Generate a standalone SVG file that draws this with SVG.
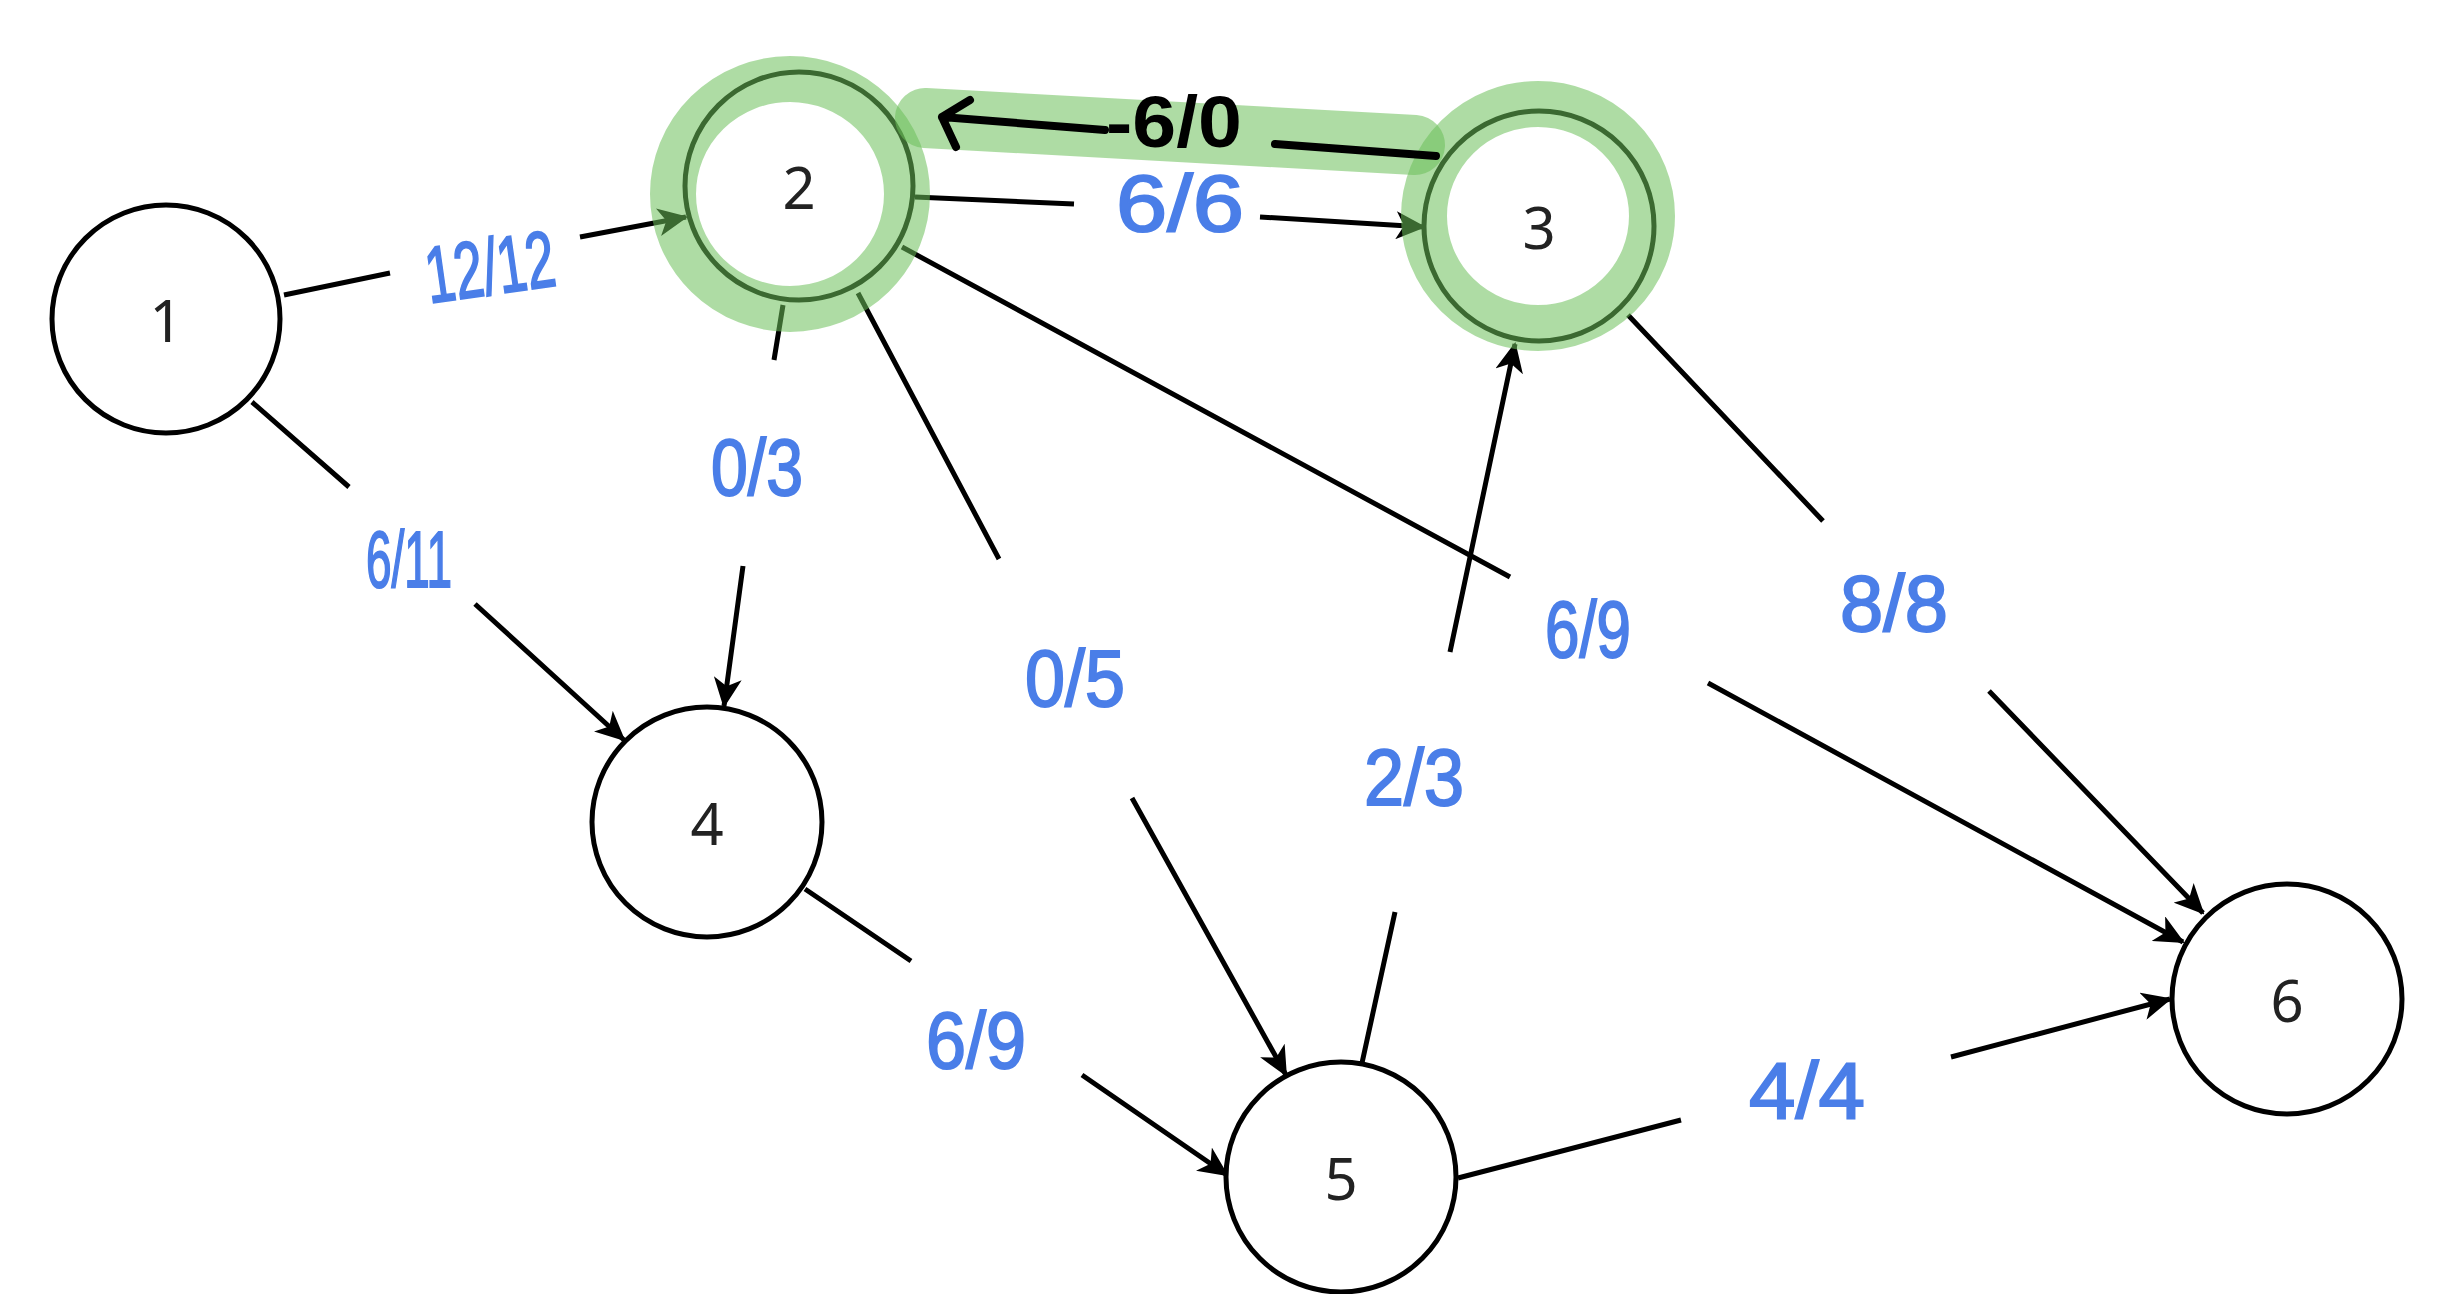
<svg xmlns="http://www.w3.org/2000/svg" width="2438" height="1294" viewBox="0 0 2438 1294">
<style>
.node circle{fill:#fff;stroke:#000;stroke-width:5}
.node text{font-family:"Noto Sans","Open Sans",sans-serif;font-size:58px;fill:#222;text-anchor:middle;dominant-baseline:central}
.edge{fill:none;stroke:#000;stroke-width:5;marker-end:url(#arr)}
.lbl{font-family:"Liberation Sans",sans-serif;font-size:80px;fill:#4a7ee8;stroke:#4a7ee8;stroke-width:2;text-anchor:middle;dominant-baseline:central}
.hl{fill:none;stroke:#6cc05a;stroke-opacity:0.55;stroke-linecap:round;stroke-linejoin:round}
.ink{fill:none;stroke:#000;stroke-width:8;stroke-linecap:round;stroke-linejoin:round}
</style>
<defs>
<marker id="arr" viewBox="0 0 30 28" refX="28" refY="14" markerWidth="30" markerHeight="28" markerUnits="userSpaceOnUse" orient="auto">
<path d="M0,0 L30,14 L0,28 L8,14 z" fill="#000"/>
</marker>
</defs>
<rect width="2438" height="1294" fill="#fff"/>
<g id="connectors">
<path class="edge" d="M284,295 L390,273 M580,237 L686,217"/>
<path class="edge" d="M252,402 L349,487 M475,604 L624,740"/>
<path class="edge" d="M783,305 L774,360 M743,566 L724,706"/>
<path class="edge" d="M858,293 L999,559 M1132,798 L1286,1075"/>
<path class="edge" d="M915,197 L1074,204 M1260,217 L1424,227"/>
<path class="edge" d="M902,247 L1510,577 M1708,683 L2183,942"/>
<path class="edge" d="M1628,315 L1823,521 M1989,691 L2203,913"/>
<path class="edge" d="M1362,1063 L1395,912 M1450,652 L1515,344"/>
<path class="edge" d="M805,889 L911,961 M1082,1075 L1227,1175"/>
<path class="edge" d="M1458,1178 L1681,1120 M1951,1057 L2170,999"/>
</g>
<g id="labels">
<text class="lbl" x="490" y="267" textLength="130" lengthAdjust="spacingAndGlyphs" transform="rotate(-8 490 267)">12/12</text>
<text class="lbl" x="409" y="559" textLength="86" lengthAdjust="spacingAndGlyphs">6/11</text>
<text class="lbl" x="757" y="467" textLength="92" lengthAdjust="spacingAndGlyphs">0/3</text>
<text class="lbl" x="1075" y="678" textLength="100" lengthAdjust="spacingAndGlyphs">0/5</text>
<text class="lbl" x="1180" y="203" textLength="128" lengthAdjust="spacingAndGlyphs">6/6</text>
<text class="lbl" x="1588" y="629" textLength="86" lengthAdjust="spacingAndGlyphs">6/9</text>
<text class="lbl" x="1894" y="603" textLength="108" lengthAdjust="spacingAndGlyphs">8/8</text>
<text class="lbl" x="1414" y="777" textLength="100" lengthAdjust="spacingAndGlyphs">2/3</text>
<text class="lbl" x="976" y="1040" textLength="100" lengthAdjust="spacingAndGlyphs">6/9</text>
<text class="lbl" x="1807" y="1090" textLength="116" lengthAdjust="spacingAndGlyphs">4/4</text>
</g>
<g id="node1" class="node"><circle cx="166" cy="319" r="114"/><text x="166" y="319">1</text></g>
<g id="node2" class="node"><circle cx="799" cy="186" r="114"/><text x="799" y="186">2</text></g>
<g id="node3" class="node"><circle cx="1539" cy="226" r="115"/><text x="1539" y="226">3</text></g>
<g id="node4" class="node"><circle cx="707" cy="822" r="115"/><text x="707" y="822">4</text></g>
<g id="node5" class="node"><circle cx="1341" cy="1177" r="115"/><text x="1341" y="1177">5</text></g>
<g id="node6" class="node"><circle cx="2287" cy="999" r="115"/><text x="2287" y="999">6</text></g>
<g id="highlight">
<ellipse class="hl" cx="790" cy="194" rx="117" ry="115" stroke-width="46"/>
<ellipse class="hl" cx="1538" cy="216" rx="114" ry="112" stroke-width="46"/>
<path class="hl" d="M925,118 L1415,145" stroke-width="60"/>
</g>
<g id="annotation">
<path class="ink" d="M1436,156 L1275,144 M1105,130 L942,117 M970,100 L942,117 L956,147"/>
<text x="1174" y="122" font-family="Liberation Sans, sans-serif" font-size="72" font-weight="bold" fill="#000" text-anchor="middle" dominant-baseline="central" textLength="136" lengthAdjust="spacingAndGlyphs">-6/0</text>
</g>
</svg>
